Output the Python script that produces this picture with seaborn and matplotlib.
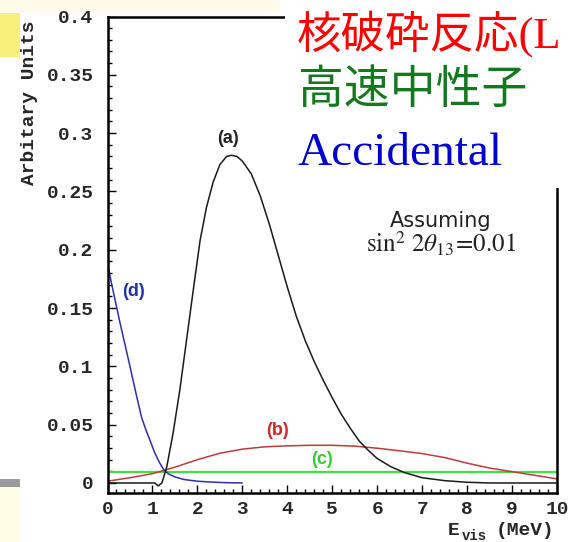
import matplotlib
matplotlib.use("Agg")
import matplotlib.pyplot as plt
from matplotlib.patches import Rectangle
from matplotlib.ticker import MultipleLocator, FixedLocator, FixedFormatter
import seaborn as sns

# (a) reactor signal
a_e = [0, 1.05, 1.13, 1.21, 1.32, 1.46, 1.61, 1.76, 1.91, 2.06, 2.2, 2.35, 2.5, 2.65, 2.76,
       2.88, 3.0, 3.2, 3.4, 3.6, 3.8, 4.0, 4.2, 4.4, 4.6, 4.8, 5.0, 5.2, 5.4, 5.6, 5.8,
       6.0, 6.3, 6.6, 7.0, 7.5, 8.0, 8.5, 10]
a_y = [0, 0, -0.0025, 0.0, 0.014, 0.043, 0.080, 0.123, 0.166, 0.208, 0.236, 0.258, 0.273, 0.280, 0.281,
       0.280, 0.276, 0.265, 0.246, 0.222, 0.195, 0.168, 0.143, 0.122, 0.104, 0.088, 0.073, 0.059, 0.047, 0.036, 0.028,
       0.021, 0.014, 0.009, 0.0045, 0.002, 0.0006, 0.0, 0.0]

# (b) fast neutrons
b_e = [0, 0.5, 1.0, 1.5, 2.0, 2.5, 3.0, 3.5, 4.0, 4.5, 5.0, 5.5, 6.0, 6.5, 7.0, 7.5, 8.0, 8.5, 9.0, 9.5, 10]
b_y = [0.0015, 0.0045, 0.008, 0.0135, 0.020, 0.0255, 0.029, 0.031, 0.0318, 0.0323, 0.0323, 0.0316, 0.0298,
       0.0276, 0.0252, 0.0218, 0.017, 0.0128, 0.0097, 0.0066, 0.0035]

# (c) flat background
c_e = [0, 10]
c_y = [0.0095, 0.0095]

# (d) accidentals
d_e = [0, 0.09, 0.28, 0.5, 0.65, 0.76, 0.86, 0.95, 1.05, 1.15, 1.24, 1.35, 1.5, 1.7, 2.0, 2.3, 2.6, 3.0]
d_y = [0.188, 0.171, 0.137, 0.100, 0.074, 0.056, 0.045, 0.036, 0.026, 0.018, 0.012, 0.008, 0.0052, 0.003,
       0.0015, 0.0008, 0.0003, 0.0]

x_ticks = [0, 1, 2, 3, 4, 5, 6, 7, 8, 9, 10]
x_labels = ["0", "1", "2", "3", "4", "5", "6", "7", "8", "9", "10"]
y_ticks = [0, 0.05, 0.1, 0.15, 0.2, 0.25, 0.3, 0.35, 0.4]
y_labels = ["0", "0.05", "0.1", "0.15", "0.2", "0.25", "0.3", "0.35", "0.4"]

sns.set_style("ticks")
plt.rcParams["mathtext.fontset"] = "stix"

W, H = 568, 542


def fx(x):
    return x / W


def fy(y):
    return 1 - y / H


fig = plt.figure(figsize=(W / 100, H / 100), dpi=100)
ax = fig.add_axes([fx(107.5), fy(493), (557 - 107.5) / W, (493 - 16.5) / H])

sns.lineplot(x=c_e, y=c_y, ax=ax, color="#44dd44", lw=1.6, estimator=None, sort=False)
sns.lineplot(x=b_e, y=b_y, ax=ax, color="#c03a3a", lw=1.1, estimator=None, sort=False)
sns.lineplot(x=d_e, y=d_y, ax=ax, color="#2e2eab", lw=1.1, estimator=None, sort=False)
sns.lineplot(x=a_e, y=a_y, ax=ax, color="#1a1a1a", lw=1.1, estimator=None, sort=False)

ax.set_xlim(0, 10)
ax.set_ylim(-0.0086, 0.4)
ax.set_xlabel("")
ax.set_ylabel("")

mono = {"family": "Liberation Mono", "weight": "bold", "size": 14}
ax.xaxis.set_major_locator(FixedLocator(x_ticks))
ax.xaxis.set_major_formatter(FixedFormatter(x_labels))
ax.yaxis.set_major_locator(FixedLocator(y_ticks))
ax.yaxis.set_major_formatter(FixedFormatter(y_labels))
ax.xaxis.set_minor_locator(MultipleLocator(0.2))
ax.yaxis.set_minor_locator(MultipleLocator(0.01))
ax.tick_params(which="both", direction="in", width=1, color="black")
ax.tick_params(which="major", length=6)
ax.tick_params(which="minor", length=3)
ax.tick_params(axis="y", pad=10)
ax.tick_params(axis="x", pad=6)
for lab in ax.get_xticklabels() + ax.get_yticklabels():
    lab.set_fontproperties(mono)
for sp in ax.spines.values():
    sp.set_visible(True)
    sp.set_linewidth(1.8)
    sp.set_color("black")

# curve tags
tag = {"family": "Liberation Sans", "weight": "bold", "size": 13}
ax.text(2.68, 0.295, "(a)", color="#222222", ha="center", va="center", fontdict=tag)
ax.text(3.79, 0.0446, "(b)", color="#cc2a2a", ha="center", va="center", fontdict=tag)
ax.text(4.77, 0.0203, "(c)", color="#33cc33", ha="center", va="center", fontdict=tag)
ax.text(0.57, 0.164, "(d)", color="#2030a8", ha="center", va="center", fontdict=tag)

fig.text(fx(441), fy(221), "Assuming", ha="center", va="center", family="DejaVu Sans", size=15, color="#222222")
fig.text(fx(441), fy(244), r"$\mathrm{sin}^{2}\ 2\theta_{13}\!=\!0.01$", ha="center", va="center",
         size=18, color="#222222")

# axis labels
fig.text(fx(30), fy(103), "Arbitary Units", rotation=90, ha="center", va="center", fontdict=mono)
fig.text(fx(448), fy(535), "E", ha="left", va="baseline", fontdict=mono)
fig.text(fx(462), fy(540), "vis", ha="left", va="baseline", family="Liberation Mono", weight="bold", size=10)
fig.text(fx(496), fy(535), "(MeV)", ha="left", va="baseline", fontdict=mono)

# slide pieces around the chart
fig.add_artist(Rectangle((0, fy(12)), fx(280), 12 / H, transform=fig.transFigure,
                         facecolor="#fffbe8", edgecolor="none", zorder=-1))
fig.add_artist(Rectangle((0, fy(57)), fx(20), 44 / H, transform=fig.transFigure,
                         facecolor="#f8ef7a", edgecolor="none", zorder=-1))
fig.add_artist(Rectangle((0, 0), fx(20), (H - 487) / H, transform=fig.transFigure,
                         facecolor="#fffde6", edgecolor="none", zorder=-1))
fig.add_artist(Rectangle((0, fy(487)), fx(20), 8 / H, transform=fig.transFigure,
                         facecolor="#9a9a9a", edgecolor="none", zorder=-1))
fig.add_artist(Rectangle((fx(285), fy(188)), 1 - fx(285), 188 / H, transform=fig.transFigure,
                         facecolor="white", edgecolor="none", zorder=5))

fig.text(fx(297), fy(34), "核破砕反応(L", color="#ff0000", size=32, ha="left", va="center",
         family=["Liberation Serif", "Noto Sans CJK JP"], zorder=6)
fig.text(fx(298), fy(90), "高速中性子", color="#14781e", size=33, ha="left", va="center",
         family=["Noto Sans CJK JP", "DejaVu Sans"], zorder=6)
fig.text(fx(297), fy(165), "Accidental", color="#0000d0", size=34, ha="left", va="baseline",
         family="Liberation Serif", zorder=6)

fig.savefig("out.png", dpi=100)
